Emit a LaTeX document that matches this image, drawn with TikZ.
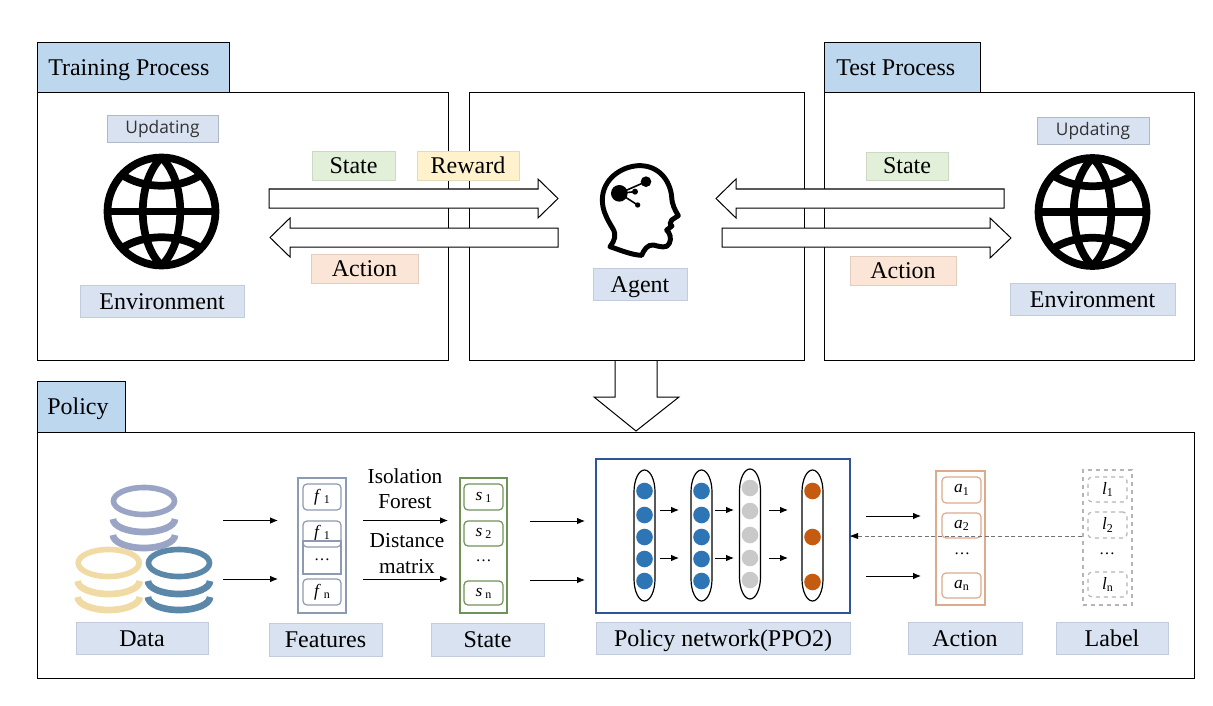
\documentclass[tikz,border=0pt]{standalone}
\usepackage{fontspec}
\setmainfont{Liberation Serif}
\newfontfamily\uifont{Open Sans}
\usetikzlibrary{arrows.meta}
\definecolor{tabblue}{HTML}{BDD7EE}
\definecolor{labblue}{HTML}{D9E2F1}
\definecolor{labedge}{HTML}{C3CCDC}
\definecolor{labgreen}{HTML}{E2F0D9}
\definecolor{labyellow}{HTML}{FFF2CC}
\definecolor{laborange}{HTML}{FBE5D6}
\definecolor{featc}{HTML}{8E99B2}
\definecolor{statec}{HTML}{6F9259}
\definecolor{actc}{HTML}{DDAA8C}
\definecolor{labc}{HTML}{B5B5B5}
\definecolor{netc}{HTML}{2F5597}
\definecolor{dotblue}{HTML}{2E75B6}
\definecolor{dotgrey}{HTML}{C9C9C9}
\definecolor{dotorange}{HTML}{C55A11}
\definecolor{dbpurple}{HTML}{9AA4C4}
\definecolor{dbyellow}{HTML}{F1DBA4}
\definecolor{dbblue}{HTML}{5B87A9}
\tikzset{
  framebox/.style={draw=black,line width=0.75pt,fill=white},
  tabbox/.style={draw=black,line width=0.75pt,fill=tabblue},
  tabtext/.style={anchor=base west,inner sep=0pt,font=\fontsize{18}{20}\selectfont},
  lab/.style={fill=labblue,draw=labedge,line width=0.5pt,font=\fontsize{18}{20}\selectfont,text height=12pt,text depth=0pt},
  labg/.style={lab,fill=labgreen,draw=labgreen!90!black},
  laby/.style={lab,fill=labyellow,draw=labyellow!90!black},
  labo/.style={lab,fill=laborange,draw=laborange!90!black},
  upd/.style={lab,draw=labedge!90!black,font=\uifont\fontsize{13}{14}\selectfont,text=black!80,text height=8pt,text depth=0pt},
  hollow/.style={draw=black,line width=0.75pt,fill=white,line join=miter},
  arr/.style={draw=black,line width=0.75pt,-{Latex[length=6pt,width=5pt]}},
  outerf/.style={draw=featc,line width=1.6pt},
  outers/.style={draw=statec,line width=1.6pt},
  outera/.style={draw=actc,line width=1.6pt},
  outerl/.style={draw=labc,line width=1.2pt,dashed},
  cellf/.style={draw=featc,line width=0.9pt,rounded corners=3pt,fill=white},
  cellst/.style={draw=statec,line width=0.9pt,rounded corners=3pt,fill=white},
  cella/.style={draw=actc,line width=0.9pt,rounded corners=3pt,fill=white},
  celll/.style={draw=labc,line width=0.9pt,rounded corners=3pt,dashed,fill=white},
  capsule/.style={draw=black,line width=0.9pt},
  plaintxt/.style={inner sep=0pt,font=\fontsize{16}{18}\selectfont},
  dotstxt/.style={inner sep=0pt,font=\fontsize{12}{14}\selectfont},
}
\newcommand{\bx}[7][]{%
  \pgfmathsetmacro{\bxcx}{(#3+#5)/2}%
  \pgfmathsetmacro{\bxcy}{(#4+#6)/2}%
  \pgfmathsetmacro{\bxw}{(#5-#3)*0.75}%
  \pgfmathsetmacro{\bxh}{(#6-#4)*0.75}%
  \node[#1,inner sep=0pt,outer sep=0pt,minimum width=\bxw pt,minimum height=\bxh pt] (#2) at (\bxcx,\bxcy) {#7};}
\newcommand{\sym}[2]{\fontsize{13}{14}\selectfont\textit{#1}\,{\fontsize{9}{10}\selectfont\raisebox{-1.5pt}{#2}}}
\newcommand{\symt}[2]{\fontsize{13}{14}\selectfont\textit{#1}{\fontsize{9}{10}\selectfont\raisebox{-2pt}{#2}}}
\newcommand{\globe}[2]{%
  \begin{scope}[shift={(#1,#2)},line width=5.8pt,draw=black]
    \draw (0,0) circle[radius=54];
    \draw (-54,0) -- (54,0);
    \draw (0,-54) .. controls (-25,-30) and (-25,30) .. (0,54);
    \draw (0,-54) .. controls (25,-30) and (25,30) .. (0,54);
    \draw (-40,-37) .. controls (-18,-22) and (18,-22) .. (40,-37);
    \draw (-40,37) .. controls (-18,22) and (18,22) .. (40,37);
  \end{scope}}
\newcommand{\dbstack}[3]{%
  \begin{scope}[shift={(#1,#2)},draw=#3,line width=4.2pt]
    \draw[fill=white] (0,0) ellipse[x radius=30.5,y radius=13.5];
    \draw[line width=5pt] (-31,18) arc[start angle=180,end angle=0,x radius=31,y radius=13];
    \draw[line width=5pt] (-31,34) arc[start angle=180,end angle=0,x radius=31,y radius=13];
  \end{scope}}
\begin{document}
\begin{tikzpicture}[x=0.75pt,y=-0.75pt]
\useasboundingbox (0,0) rectangle (1213,706);
% frames
\bx[framebox]{trainbox}{37}{93}{448}{360}{}
\bx[tabbox]{traintab}{37}{43}{229}{93}{}
\node[tabtext] (traintxt) at (48,76) {Training Process};
\bx[framebox]{agentbox}{469}{93}{804}{360}{}
\bx[framebox]{testbox}{824}{93}{1194}{360}{}
\bx[tabbox]{testtab}{824}{43}{980}{93}{}
\node[tabtext] (testtxt) at (836,76) {Test Process};
\bx[framebox]{policybox}{37}{432}{1194}{678}{}
\bx[tabbox]{policytab}{37}{381}{125}{432}{}
\node[tabtext] (policytxt) at (47,414) {Policy};
% big arrow
\draw[hollow,fill=none] (615,361) -- (615,397) -- (594,397) -- (636,431) -- (679,397) -- (657,397) -- (657,361);
% hollow arrows
\draw[hollow] (269,189) -- (538,189) -- (538,179) -- (558,198.5) -- (538,218) -- (538,208) -- (269,208) -- cycle;
\draw[hollow] (558,228) -- (290,228) -- (290,218) -- (270,237.5) -- (290,257) -- (290,247) -- (558,247) -- cycle;
\draw[hollow] (1004,189) -- (736,189) -- (736,179) -- (716,198.5) -- (736,218) -- (736,208) -- (1004,208) -- cycle;
\draw[hollow] (722,228) -- (990,228) -- (990,218) -- (1011,238) -- (990,258) -- (990,247) -- (722,247) -- cycle;
% top labels
\bx[upd]{upd1}{107}{115}{218}{142}{Updating}
\bx[upd]{upd2}{1037}{117}{1149}{144}{Updating}
\bx[lab]{env1}{80}{285}{244}{317}{Environment}
\bx[lab]{env2}{1010}{283}{1175}{315}{Environment}
\bx[labg]{state1}{312}{151}{395}{180}{State}
\bx[laby]{reward}{417}{151}{519}{180}{Reward}
\bx[labo]{action1}{311}{254}{418}{283}{Action}
\bx[labg]{state2}{866}{152}{948}{180}{State}
\bx[labo]{action2}{850}{256}{956}{285}{Action}
\bx[lab]{agent}{593}{268}{687}{300}{Agent}
\globe{161.5}{211.5}
\globe{1092.5}{212}
% head
\begin{scope}[shift={(570,150)},x=0.25pt,y=-0.25pt]
  \draw[line width=3.7pt,line join=round] (120,290) .. controls (135,270) and (140,255) .. (128,235)
    .. controls (110,205) and (97,180) .. (97,150)
    .. controls (97,90) and (150,50) .. (205,47)
    .. controls (265,45) and (300,90) .. (305,140)
    .. controls (306,165) and (315,180) .. (325,197)
    -- (305,210) -- (300,222) -- (306,228) -- (290,240)
    .. controls (300,250) and (305,265) .. (298,280)
    .. controls (292,297) and (270,290) .. (250,285)
    .. controls (232,283) and (222,300) .. (215,316)
    .. controls (185,315) and (150,300) .. (120,290) -- cycle;
  \fill (148,130) circle[radius=25];
  \fill (228,95) circle[radius=16];
  \fill (195,125) circle[radius=9];
  \fill (203,165) circle[radius=8];
  \draw[line width=1.2pt] (148,130) -- (228,95) (148,130) -- (195,125) (148,130) -- (203,165);
\end{scope}
% data
\dbstack{144}{501}{dbpurple}
\dbstack{108.7}{563}{dbyellow}
\dbstack{179}{563}{dbblue}
\bx[lab]{data}{76}{622}{208}{654}{Data}
\bx[lab]{features}{269}{623}{382}{656}{Features}
\bx[lab]{statelab}{431}{623}{544}{656}{State}
\bx[lab]{policynet}{596}{622}{850}{654}{Policy network(PPO2)}
\bx[lab]{actionlab}{908}{622}{1022}{654}{Action}
\bx[lab]{labellab}{1056}{622}{1168}{654}{Label}
% features column
\bx[outerf]{fbox}{298}{478}{346}{613}{}
\bx[cellf]{f1}{303}{484}{341}{510}{\sym{f}{1}}
\bx[cellf]{f2}{303}{521}{341}{547}{\raisebox{4pt}{\sym{f}{1}}}
\bx[draw=featc,line width=0.9pt]{fm}{303}{541}{341}{574}{\raisebox{-4pt}{\fontsize{12}{14}\selectfont\dots}}
\bx[cellf]{fn}{303}{579}{341}{605}{\sym{f}{n}}
% state column
\bx[outers]{sbox}{460}{478}{507}{613}{}
\bx[cellst]{s1}{464}{484}{503}{510}{\sym{s}{1}}
\bx[cellst]{s2}{464}{521}{503}{546}{\sym{s}{2}}
\node[dotstxt] (sdots) at (483.5,561) {\dots};
\bx[cellst]{sn}{464}{581}{503}{605}{\sym{s}{n}}
\node[plaintxt] (iso) at (405,476) {Isolation};
\node[plaintxt] (forest) at (405,502) {Forest};
\node[plaintxt] (dist) at (407,541) {Distance};
\node[plaintxt] (matrix) at (407,567) {matrix};
% network
\bx[draw=netc,line width=0.8pt,fill=white]{net}{596}{459}{850}{613}{}
\foreach \cx/\ya/\yb in {644.5/470/601, 701.5/470/601, 750/469/599, 812.5/470/601}{
  \draw[capsule] (\cx-10.5,\ya+22) arc[start angle=180,end angle=360,x radius=10.5,y radius=22]
    -- (\cx+10.5,\yb-22) arc[start angle=0,end angle=180,x radius=10.5,y radius=22] -- cycle;
}
\foreach \cy in {491,515,537,559,581}{
  \fill[dotblue] (644.5,\cy) circle[radius=8.3];
  \fill[dotblue] (701.5,\cy) circle[radius=8.3];
}
\foreach \cy in {488,511,535,558,580}{
  \fill[dotgrey] (750,\cy) circle[radius=8.3];
}
\foreach \cy in {491,537,582}{
  \fill[dotorange] (812.5,\cy) circle[radius=8.3];
}
% action column
\bx[outera]{abox}{936}{471}{985}{605}{}
\bx[cella]{a1}{942}{477}{981}{503}{\symt{a}{1}}
\bx[cella]{a2}{942}{513}{981}{538}{\symt{a}{2}}
\node[dotstxt] (adots) at (962,554) {\dots};
\bx[cella]{an}{942}{573}{981}{598}{\symt{a}{n}}
% label column
\bx[outerl]{lbox}{1083}{470}{1132}{605}{}
\bx[celll]{l1}{1088}{477}{1127}{502}{\symt{l}{1}}
\bx[celll]{l2}{1088}{512}{1127}{538}{\symt{l}{2}}
\node[dotstxt] (ldots) at (1107,554) {\dots};
\bx[celll]{ln}{1088}{572}{1127}{597}{\symt{l}{n}}
% small connectors
\foreach \n/\xa/\xb/\yy in {p1/223/278/520.5,p2/223/278/579,p3/363/448/520.5,p4/363/448/579,p5/530/585/521,p6/530/585/580,p7/866/921/516,p8/866/921/576,p9/660/679/510,p10/660/679/558,p11/715/734/510,p12/715/734/558,p13/769/788/510,p14/769/788/558}{
  \coordinate (\n s) at (\xa,\yy);
  \coordinate (\n e) at (\xb,\yy);
  \draw[arr] (\n s) -- (\n e);
}
\coordinate (fbs) at (1082,536);
\draw[draw=black!55,line width=0.6pt,densely dashed] (fbs) -- (net.east |- fbs);
\fill[black] (850,536) -- (858,533) -- (858,539) -- cycle;
\end{tikzpicture}
\end{document}
